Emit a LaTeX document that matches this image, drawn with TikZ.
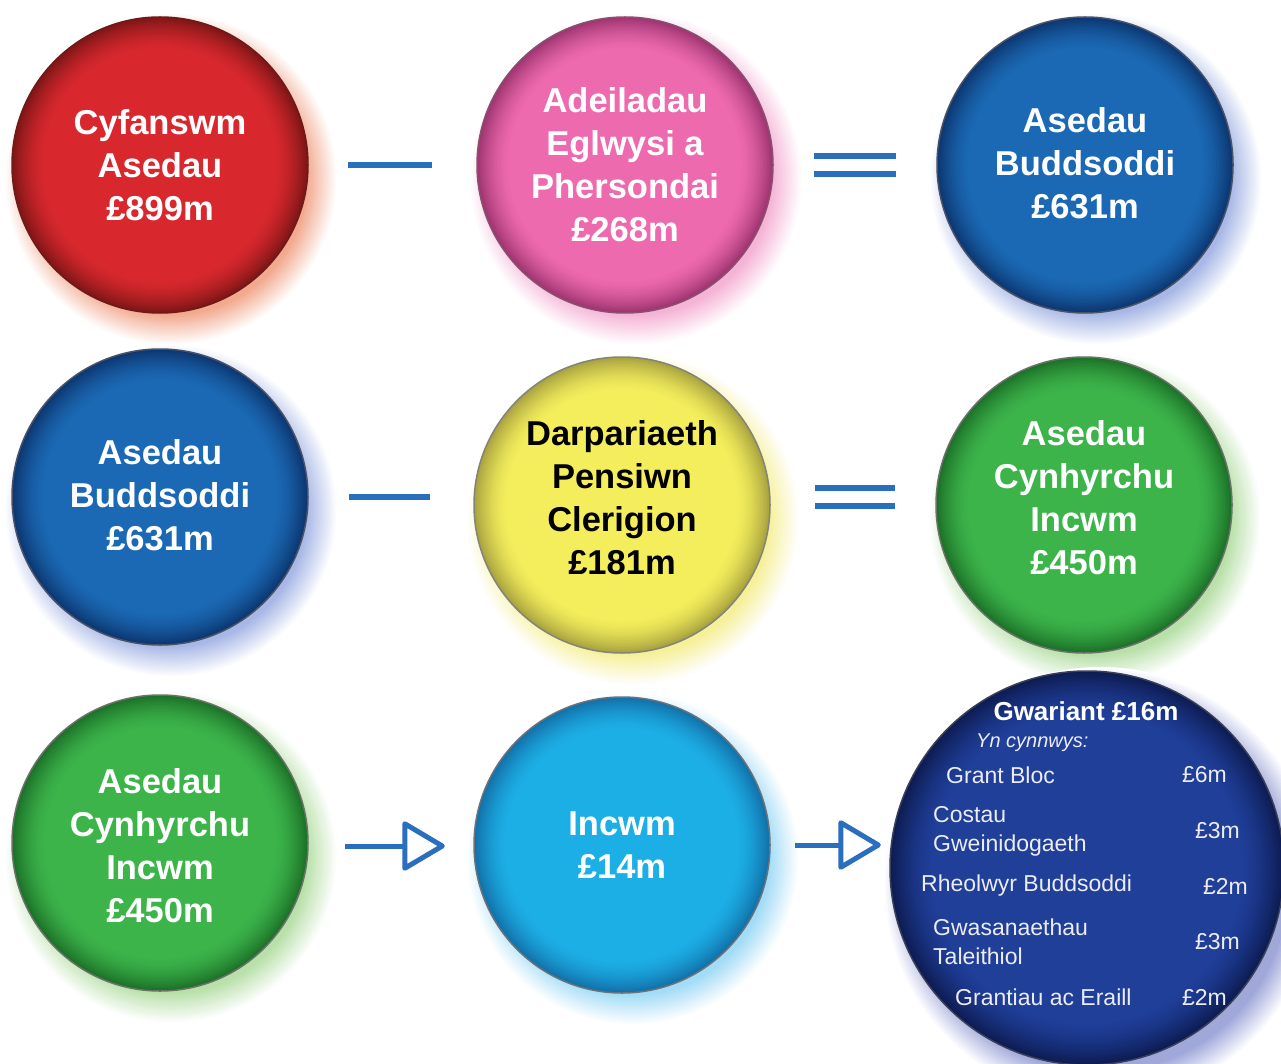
\documentclass[tikz,border=0pt]{standalone}
\usepackage{fontspec}
\setmainfont{Liberation Sans}
\usetikzlibrary{arrows.meta}

\definecolor{redin}{HTML}{D8282E}\definecolor{redout}{HTML}{7E1616}\definecolor{redglow}{HTML}{F2A98E}\definecolor{redrim}{HTML}{6E1A1A}
\definecolor{pinkin}{HTML}{EE6AAE}\definecolor{pinkout}{HTML}{9E3470}\definecolor{pinkglow}{HTML}{F5B3D6}\definecolor{pinkrim}{HTML}{8A5070}
\definecolor{bluein}{HTML}{1B69B4}\definecolor{blueout}{HTML}{0C3670}\definecolor{blueglow}{HTML}{A8B8E6}\definecolor{bluerim}{HTML}{4A5268}
\definecolor{yelin}{HTML}{F4EE5C}\definecolor{yelout}{HTML}{A8A240}\definecolor{yelglow}{HTML}{F6F09A}\definecolor{yelrim}{HTML}{84847A}
\definecolor{grnin}{HTML}{3CB44A}\definecolor{grnout}{HTML}{1C7028}\definecolor{grnglow}{HTML}{B8E0A8}\definecolor{grnrim}{HTML}{6A726A}
\definecolor{cyanin}{HTML}{1CAFE6}\definecolor{cyanout}{HTML}{1270A8}\definecolor{cyanglow}{HTML}{A2DCF6}\definecolor{cyanrim}{HTML}{6A727A}
\definecolor{navyin}{HTML}{1F3F99}\definecolor{navyout}{HTML}{0D1B52}\definecolor{navyglow}{HTML}{A0A8DA}\definecolor{navyrim}{HTML}{3A4058}
\definecolor{opblue}{HTML}{2A6EBE}
\definecolor{paneltext}{HTML}{ECECF4}

\newcommand\bigtxt{\fontsize{34.5}{43}\selectfont\bfseries}
\newcommand\paneltxt{\fontsize{23}{29}\selectfont}

% concentric fills imitating a ball with a darker rim
\newcommand\ballfill[5]{%
  \fill[#4] (#1) circle[radius=#2];
  \foreach \i in {1,...,23}{%
    \pgfmathtruncatemacro\pc{100*(1-\i/24)^1.6}%
    \pgfmathsetmacro\rr{#2-\i*1.4*#2/148}%
    \fill[#4!\pc!#3] (#1) circle[radius=\rr];
  }%
  \pgfmathsetmacro\rr{#2-24*1.4*#2/148}%
  \fill[#3] (#1) circle[radius=\rr];
  \draw[#5, line width=1.5pt] (#1) circle[radius=#2];
}
% concentric fills imitating a soft coloured glow
\newcommand\glowfill[3]{%
  \foreach \i in {0,...,16}{%
    \pgfmathtruncatemacro\pc{\i*100/16}%
    \pgfmathsetmacro\rr{#2-\i*1.9}%
    \fill[#3!\pc!white] (#1) circle[radius=\rr];
  }%
}

\begin{document}
\begin{tikzpicture}[x=1pt,y=-1pt,
  ball/.style={circle, minimum size=296pt, inner sep=0pt,
     text=white, font=\bigtxt, align=center},
  opline/.style={draw=opblue, line width=6pt},
  eqline/.style={draw=opblue, line width=6pt, double=white, double distance=12pt},
  flowarrow/.style={draw=opblue, line width=5pt,
     -{Triangle[open, length=45pt, width=52pt, round]}},
  ptxt/.style={text=paneltext, font=\paneltxt, inner sep=0pt, align=left}
]
\fill[white] (0,0) rectangle (1281,1064);
\useasboundingbox (0,0) rectangle (1281,1064);

% centres
\coordinate (c11) at (160,165);
\coordinate (c12) at (625,165);
\coordinate (c13) at (1085,165);
\coordinate (c21) at (160,497);
\coordinate (c22) at (622,505);
\coordinate (c23) at (1084,505);
\coordinate (c31) at (160,843);
\coordinate (c32) at (622,845);
\coordinate (c33) at (1087,868);

% glows
\foreach \c/\g in {c11/redglow, c12/pinkglow, c13/blueglow, c21/blueglow,
                   c22/yelglow, c23/grnglow, c31/grnglow, c32/cyanglow}{
  \coordinate (gl) at ([shift={(11,14)}]\c);
  \glowfill{gl}{167}{\g}
}
\coordinate (gl) at ([shift={(14,17)}]c33);
\glowfill{gl}{218}{navyglow}

% balls
\ballfill{c11}{148}{redin}{redout}{redrim}
\ballfill{c12}{148}{pinkin}{pinkout}{pinkrim}
\ballfill{c13}{148}{bluein}{blueout}{bluerim}
\ballfill{c21}{148}{bluein}{blueout}{bluerim}
\ballfill{c22}{148}{yelin}{yelout}{yelrim}
\ballfill{c23}{148}{grnin}{grnout}{grnrim}
\ballfill{c31}{148}{grnin}{grnout}{grnrim}
\ballfill{c32}{148}{cyanin}{cyanout}{cyanrim}
\ballfill{c33}{197}{navyin}{navyout}{navyrim}

\node[ball] (r1) at (c11) {Cyfanswm\\Asedau\\£899m};
\node[ball] (p1) at (c12) {Adeiladau\\Eglwysi a\\Phersondai\\£268m};
\node[ball, yshift=2pt] (b1) at (c13) {Asedau\\Buddsoddi\\£631m};

\node[ball, yshift=2pt] (b2) at (c21) {Asedau\\Buddsoddi\\£631m};
\node[ball, text=black, yshift=7pt] (y2) at (c22) {Darpariaeth\\Pensiwn\\Clerigion\\£181m};
\node[ball, yshift=7pt] (g2) at (c23) {Asedau\\Cynhyrchu\\Incwm\\£450m};

\node[ball, yshift=-3pt] (g3) at (c31) {Asedau\\Cynhyrchu\\Incwm\\£450m};
\node[ball] (c3) at (c32) {Incwm\\£14m};
\node[ball, minimum size=394pt] (n3) at (c33) {};

% operators
\draw[opline, shorten <=40pt, shorten >=45pt] (r1.east) -- (r1.east -| p1.west);
\draw[eqline, shorten <=41pt, shorten >=41pt] (p1.east |- r1.east) -- (b1.west |- r1.east);
\draw[opline, shorten <=41pt, shorten >=44pt] (c21) ++(148,0) coordinate (b2e) -- (b2e -| y2.west);
\draw[eqline, shorten <=45pt, shorten >=41pt] (y2.east |- b2e) -- (g2.west |- b2e);

% arrows
\draw[flowarrow, shorten <=37pt, shorten >=29pt] (g3.east) -- (g3.east -| c3.west);
\draw[flowarrow, shorten <=25pt, shorten >=9pt] (c3.east) -- (c3.east -| n3.west);

% panel text
\node[text=white, font=\fontsize{26}{30}\selectfont\bfseries, inner sep=0pt] (t0) at (1086,711) {Gwariant £16m};
\node[ptxt, font=\fontsize{20}{24}\selectfont\itshape, anchor=west] (t1) at (976,743) {Yn cynnwys:};
\node[ptxt, anchor=west] (t2) at (946,775) {Grant Bloc};
\node[ptxt, anchor=east] (v2) at (1227,775) {£6m};
\node[ptxt, anchor=west] (t3) at (933,831) {Costau\\Gweinidogaeth};
\node[ptxt, anchor=east] (v3) at (1240,831) {£3m};
\node[ptxt, anchor=west] (t4) at (921,886) {Rheolwyr Buddsoddi};
\node[ptxt, anchor=east] (v4) at (1248,886) {£2m};
\node[ptxt, anchor=west] (t5) at (933,942) {Gwasanaethau\\Taleithiol};
\node[ptxt, anchor=east] (v5) at (1240,942) {£3m};
\node[ptxt, anchor=west] (t6) at (955,997) {Grantiau ac Eraill};
\node[ptxt, anchor=east] (v6) at (1227,997) {£2m};
\end{tikzpicture}
\end{document}
